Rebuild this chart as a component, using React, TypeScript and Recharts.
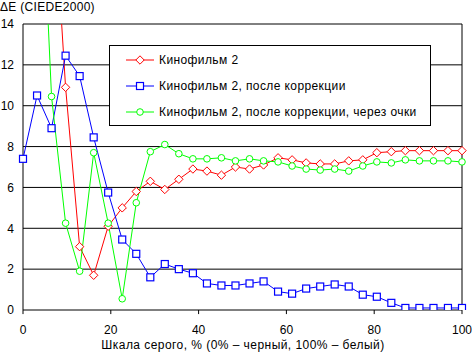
import { LineChart, Line, XAxis, YAxis, ReferenceLine } from 'recharts'

// gray level, % (32 steps)
const GRAY = [
  0, 3.2, 6.5, 9.7, 12.9, 16.1, 19.4, 22.6, 25.8, 29.0, 32.3, 35.5, 38.7, 41.9, 45.2, 48.4,
  51.6, 54.8, 58.1, 61.3, 64.5, 67.7, 71.0, 74.2, 77.4, 80.6, 83.9, 87.1, 90.3, 93.5, 96.8, 100,
]
const FILM = [
  30, 26, 22, 10.9, 3.1, 1.7, 4.1, 5.0, 5.8, 6.3, 5.9, 6.4, 6.9, 6.8, 6.6, 7.0,
  6.9, 7.1, 7.45, 7.35, 7.2, 7.15, 7.15, 7.3, 7.35, 7.7, 7.75, 7.8, 7.8, 7.8, 7.8, 7.8,
]
const CORRECTED = [
  7.4, 10.5, 8.9, 12.45, 11.45, 8.45, 5.75, 3.45, 2.75, 1.6, 2.25, 2.0, 1.8, 1.3, 1.2, 1.2,
  1.3, 1.4, 0.9, 0.8, 1.05, 1.15, 1.25, 1.15, 0.75, 0.65, 0.35, 0.1, 0.1, 0.1, 0.1, 0.1,
]
const GLASSES = [
  32, 26, 10.45, 4.25, 1.9, 7.7, 4.25, 0.55, 5.25, 7.75, 8.1, 7.65, 7.4, 7.4, 7.45, 7.3,
  7.4, 7.3, 7.25, 7.05, 6.9, 6.85, 6.9, 6.8, 7.05, 7.25, 7.2, 7.35, 7.3, 7.3, 7.3, 7.25,
]

const X_TICKS = [0, 20, 40, 60, 80, 100]
const Y_TICKS = [0, 2, 4, 6, 8, 10, 12, 14]

const SERIES = [
  { key: 'film', name: 'Кинофильм 2', color: '#ff0000', shape: 'diamond' },
  { key: 'corrected', name: 'Кинофильм 2, после коррекции', color: '#0000ff', shape: 'square' },
  { key: 'glasses', name: 'Кинофильм 2, после коррекции, через очки', color: '#00ff00', shape: 'circle' },
]

const data = GRAY.map((x, i) => ({
  x,
  film: FILM[i],
  corrected: CORRECTED[i],
  glasses: GLASSES[i],
}))

const FONT = '"Liberation Sans", Arial, sans-serif'

function Marker({ shape, color, cx, cy }: { shape: string; color: string; cx: number; cy: number }) {
  if (shape === 'diamond') {
    const r = 4.2
    return (
      <path
        d={`M${cx},${cy - r}L${cx + r},${cy}L${cx},${cy + r}L${cx - r},${cy}Z`}
        fill="#fff"
        stroke={color}
        strokeWidth={1}
      />
    )
  }
  if (shape === 'square') {
    return <rect x={cx - 3.5} y={cy - 3.5} width={7} height={7} fill="#fff" stroke={color} strokeWidth={1.2} />
  }
  return <circle cx={cx} cy={cy} r={3.3} fill="#fff" stroke={color} strokeWidth={1} />
}

const makeDot = (shape: string, color: string) => (p: any) => {
  if (p.cx == null || p.cy == null) return <g key={p.key} />
  return (
    <g key={p.key}>
      <Marker shape={shape} color={color} cx={p.cx} cy={p.cy} />
    </g>
  )
}

function LegendBox() {
  const rows = [14, 40, 66]
  return (
    <div
      style={{
        position: 'absolute',
        left: 109,
        top: 45,
        width: 320,
        height: 79,
        border: '1px solid #000',
        background: '#fff',
        fontFamily: FONT,
        fontSize: 12,
        letterSpacing: '0.4px',
      }}
    >
      {SERIES.map((s, i) => (
        <div key={s.key} style={{ position: 'absolute', left: 0, top: rows[i] - 7, height: 14, width: 318 }}>
          <svg width={30} height={14} style={{ position: 'absolute', left: 16, top: 0 }}>
            <line x1={0} y1={7} x2={28} y2={7} stroke={s.color} strokeWidth={1} />
            <Marker shape={s.shape} color={s.color} cx={14} cy={7} />
          </svg>
          <span style={{ position: 'absolute', left: 49, top: 0, lineHeight: '14px', whiteSpace: 'nowrap' }}>{s.name}</span>
        </div>
      ))}
    </div>
  )
}

export default function App() {
  return (
    <div style={{ position: 'absolute', left: 0, top: 0, width: 472, height: 353, background: '#fff', fontFamily: FONT }}>
      <LineChart width={472} height={353} data={data} margin={{ top: 24, right: 5, bottom: 0, left: 0 }}>
        <XAxis
          dataKey="x"
          type="number"
          domain={[0, 100]}
          ticks={X_TICKS}
          interval={0}
          padding={{ left: 5, right: 5 }}
          height={38}
          axisLine={false}
          tickLine={false}
          tickSize={0}
          tickMargin={10}
          tick={{ fontSize: 12, fill: '#000', fontFamily: FONT }}
        />
        <YAxis
          type="number"
          domain={[0, 14]}
          ticks={Y_TICKS}
          interval={0}
          allowDataOverflow
          width={18}
          padding={{ top: 0, bottom: 5 }}
          axisLine={false}
          tickLine={false}
          tickSize={0}
          tickMargin={4}
          tick={{ fontSize: 12, fill: '#000', fontFamily: FONT }}
        />
        {Y_TICKS.map((t) => (
          <ReferenceLine key={`g-${t}`} segment={[{ x: 0, y: t }, { x: 100, y: t }]} stroke="#000" strokeWidth={1} />
        ))}
        <ReferenceLine segment={[{ x: 0, y: 0 }, { x: 0, y: 14 }]} stroke="#000" strokeWidth={1} />
        <ReferenceLine segment={[{ x: 100, y: 0 }, { x: 100, y: 14 }]} stroke="#000" strokeWidth={1} />
        {X_TICKS.map((t) => (
          <ReferenceLine
            key={`t-${t}`}
            segment={[{ x: t, y: 0 }, { x: t, y: -0.2 }]}
            stroke="#000"
            strokeWidth={1}
            ifOverflow="visible"
          />
        ))}
        {SERIES.map((s) => (
          <Line
            key={s.key}
            dataKey={s.key}
            name={s.name}
            type="linear"
            stroke={s.color}
            strokeWidth={1}
            dot={makeDot(s.shape, s.color)}
            activeDot={false}
            isAnimationActive={false}
          />
        ))}
      </LineChart>
      <div
        style={{
          position: 'absolute',
          left: 0,
          top: 0,
          fontSize: 12,
          lineHeight: '14px',
          letterSpacing: '0.3px',
          whiteSpace: 'nowrap',
        }}
      >
        ΔE (CIEDE2000)
      </div>
      <div
        style={{
          position: 'absolute',
          left: 23,
          top: 338,
          width: 440,
          textAlign: 'center',
          fontSize: 12,
          lineHeight: '14px',
          letterSpacing: '0.45px',
          whiteSpace: 'nowrap',
        }}
      >
        Шкала серого, % (0% – черный, 100% – белый)
      </div>
      <LegendBox />
    </div>
  )
}
